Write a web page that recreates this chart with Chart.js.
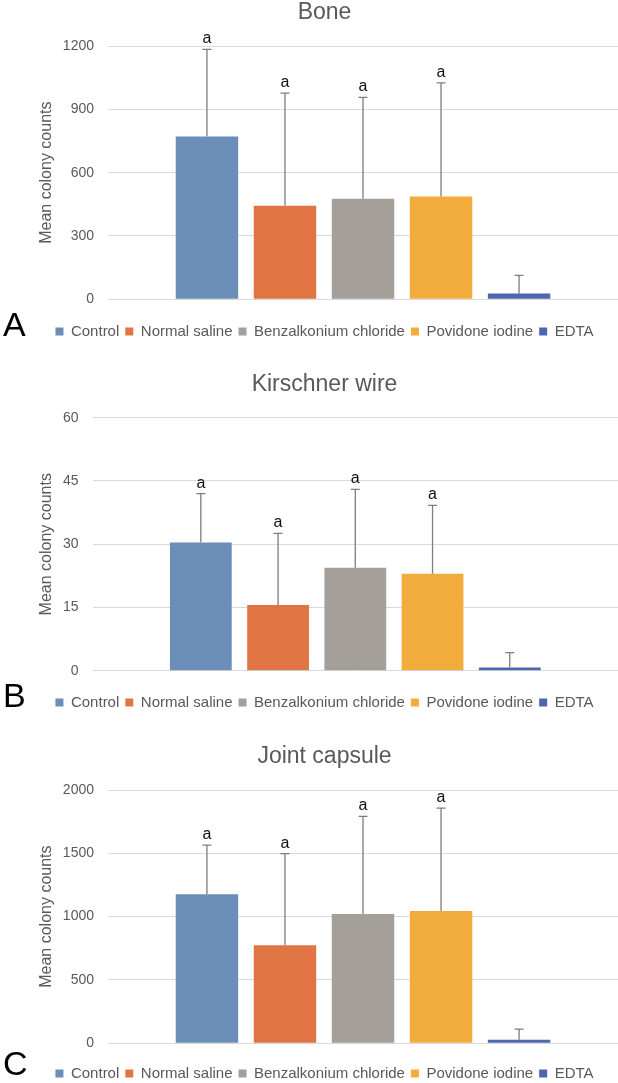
<!DOCTYPE html>
<html>
<head>
<meta charset="utf-8">
<script src="https://cdn.jsdelivr.net/npm/chart.js@4.4.0/dist/chart.umd.min.js"></script>
<style>
    html, body { margin: 0; padding: 0; background: #fff; overflow: hidden; }
    body { width: 618px; height: 1083px; position: relative; }
    .panel { position: absolute; left: 0; width: 618px; }
    .letter { position: absolute; left: 3px; font: 34px/1 'Liberation Sans', Arial, sans-serif; color: #000; }
</style>
</head>
<body>
<div class="panel" style="top:0px;height:349px"><canvas id="chart-bone"></canvas></div>
<div class="panel" style="top:372px;height:348px"><canvas id="chart-wire"></canvas></div>
<div class="panel" style="top:744px;height:347px"><canvas id="chart-capsule"></canvas></div>
<div class="letter" style="top:307px">A</div>
<div class="letter" style="top:678px">B</div>
<div class="letter" style="top:1046px">C</div>
<script>
// Grupos de tratamento
const groups = ['Control', 'Normal saline', 'Benzalkonium chloride', 'Povidone iodine', 'EDTA'];
const groupColors = ['#6b8eb9', '#e07543', '#a59f9a', '#f2ac3b', '#4e66ae'];
const letters = ['a', 'a', 'a', 'a', ''];

// Bone
const boneMeans = [771, 443, 476, 487, 27];
const boneErrors = [413, 534, 481, 538, 86];
const boneTicks = [0, 300, 600, 900, 1200];

// Kirschner wire
const wireMeans = [30.4, 15.6, 24.4, 23.0, 0.8];
const wireErrors = [11.6, 17.0, 18.6, 16.2, 3.5];
const wireTicks = [0, 15, 30, 45, 60];

// Joint capsule
const capsuleMeans = [1176, 773, 1021, 1044, 27];
const capsuleErrors = [388, 725, 770, 813, 84];
const capsuleTicks = [0, 500, 1000, 1500, 2000];

const FONT = "'Liberation Sans', Arial, sans-serif";
const GREY = '#595959';

// Barras de erro e letras acima delas
const errorBarsPlugin = {
    id: 'errorBars',
    afterDatasetsDraw(chart) {
        const ctx = chart.ctx;
        const yScale = chart.scales.y;
        chart.data.datasets.forEach((ds, i) => {
            const meta = chart.getDatasetMeta(i);
            meta.data.forEach((bar, j) => {
                const mean = ds.data[j];
                const base = yScale.getPixelForValue(mean);
                const top = yScale.getPixelForValue(mean + ds.errors[j]);
                ctx.save();
                ctx.strokeStyle = '#857b76';
                ctx.lineWidth = 1.3;
                ctx.beginPath();
                ctx.moveTo(bar.x, base);
                ctx.lineTo(bar.x, top);
                ctx.moveTo(bar.x - 4.5, top);
                ctx.lineTo(bar.x + 4.5, top);
                ctx.stroke();
                if (ds.letter) {
                    ctx.fillStyle = '#111';
                    ctx.font = '16px ' + FONT;
                    ctx.textAlign = 'center';
                    ctx.textBaseline = 'alphabetic';
                    ctx.fillText(ds.letter, bar.x, top - 6);
                }
                ctx.restore();
            });
        });
    }
};

function renderPanel(canvasId, title, means, errors, ticks, cfg) {
    const ctx = document.getElementById(canvasId).getContext('2d');
    const datasets = groups.map((g, i) => ({
        label: g,
        data: [means[i]],
        errors: [errors[i]],
        letter: letters[i],
        backgroundColor: groupColors[i],
        borderWidth: 0
    }));

    return new Chart(ctx, {
        type: 'bar',
        data: { labels: [''], datasets: datasets },
        plugins: [errorBarsPlugin],
        options: {
            responsive: true,
            maintainAspectRatio: false,
            animation: false,
            categoryPercentage: cfg.catPct,
            barPercentage: 0.8,
            layout: { padding: { left: 31, right: 0, top: 0, bottom: 0 } },
            plugins: {
                title: {
                    display: true,
                    text: title,
                    color: GREY,
                    font: { family: FONT, size: 23, weight: 'normal', lineHeight: 1 },
                    padding: { top: 1, bottom: cfg.titleGap - 1 }
                },
                legend: {
                    position: 'bottom',
                    labels: {
                        color: GREY,
                        font: { family: FONT, size: 15 },
                        boxWidth: 8,
                        boxHeight: 8,
                        padding: 6
                    }
                },
                tooltip: { enabled: false }
            },
            scales: {
                x: {
                    ticks: { display: false },
                    grid: { display: false },
                    border: { display: false },
                    afterFit: s => { s.height = cfg.xHeight; }
                },
                y: {
                    min: ticks[0],
                    max: ticks[ticks.length - 1],
                    afterBuildTicks: s => { s.ticks = ticks.map(v => ({ value: v })); },
                    ticks: {
                        color: GREY,
                        font: { family: FONT, size: 14 },
                        padding: 14,
                        callback: v => String(v)
                    },
                    grid: { color: '#d9d9d9', lineWidth: 1, drawTicks: false },
                    border: { display: false },
                    title: {
                        display: true,
                        text: 'Mean colony counts',
                        color: GREY,
                        font: { family: FONT, size: 16 },
                        padding: { top: 6, bottom: 0 }
                    },
                    afterFit: s => { s.width = cfg.yWidth; }
                }
            }
        }
    });
}

renderPanel('chart-bone', 'Bone', boneMeans, boneErrors, boneTicks,
    { catPct: 0.765, titleGap: 23, xHeight: 18.7, yWidth: 77 });
renderPanel('chart-wire', 'Kirschner wire', wireMeans, wireErrors, wireTicks,
    { catPct: 0.735, titleGap: 22.7, xHeight: 18.2, yWidth: 61.6 });
renderPanel('chart-capsule', 'Joint capsule', capsuleMeans, capsuleErrors, capsuleTicks,
    { catPct: 0.765, titleGap: 23, xHeight: 16.8, yWidth: 77 });
</script>
</body>
</html>
